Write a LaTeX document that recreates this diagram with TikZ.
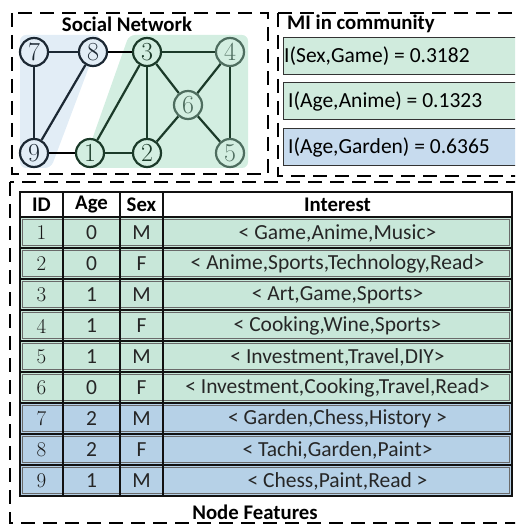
\documentclass[tikz,border=0pt]{standalone}
\usepackage{fontspec}
\newfontfamily\calib{Carlito}
\definecolor{bgblue}{HTML}{E2EDF6}
\definecolor{bggreen}{HTML}{D3EEE1}
\definecolor{rowgreen}{HTML}{C8E7D9}
\definecolor{rowblue}{HTML}{B6D1E7}
\definecolor{migreen}{HTML}{D0EBDD}
\definecolor{miblue}{HTML}{C7DBEE}
\definecolor{navyline}{HTML}{1C2833}
\definecolor{darkgreen}{HTML}{1B3A29}
\definecolor{softgreen}{HTML}{4E6D5F}
\definecolor{rowline}{HTML}{111111}
\definecolor{innerline}{HTML}{6A6A6A}
\newcommand\txt{\calib\fontsize{21.5}{24}\selectfont}
\newcommand\btxt{\calib\bfseries\fontsize{20.8}{24}\selectfont}
\newcommand\ntxt{\fontsize{26}{28}\selectfont}
\newcommand\idtxt{\fontsize{21}{23}\selectfont}
\begin{document}
\begin{tikzpicture}[x=1pt,y=-1pt,
  dashbox/.style={draw=black, line width=1.6pt, dash pattern=on 14pt off 8pt},
  gnode/.style={circle, minimum size=28pt, inner sep=0pt, line width=2.2pt, font=\ntxt},
  bnode/.style={gnode, draw=navyline, fill=bgblue, text=navyline},
  dnode/.style={gnode, draw=darkgreen, fill=bggreen, text=darkgreen},
  lnode/.style={gnode, draw=softgreen, fill=bggreen, text=softgreen},
  bedge/.style={draw=navyline, line width=2.2pt},
  gedge/.style={draw=darkgreen, line width=2.2pt},
  kedge/.style={draw=black, line width=2.2pt},
  title/.style={font=\btxt, inner sep=0pt},
  mibox/.style={draw=black!80, line width=0.8pt},
  mitext/.style={font=\txt, anchor=west, inner sep=0pt},
  cell/.style={font=\txt, text=black!85, inner sep=0pt},
  idcell/.style={font=\idtxt, text=black!90, inner sep=0pt},
  head/.style={font=\btxt, inner sep=0pt}]
\path[use as bounding box] (0,0) rectangle (515,526);
\clip (0,0) rectangle (515,526);

% ---- social network ----
\fill[bgblue, rounded corners=6pt] (20,35) -- (101,35) -- (51,168) -- (20,168) -- cycle;
\fill[bggreen, rounded corners=6pt] (129,35) -- (248,35) -- (248,168) -- (82,168) -- cycle;

\node[bnode] (n7) at (34,52) {7};
\node[bnode] (n8) at (93,52) {8};
\node[dnode] (n3) at (147,52) {3};
\node[lnode] (n4) at (230,52) {4};
\node[lnode] (n6) at (188,105) {6};
\node[bnode] (n9) at (34,153) {9};
\node[dnode] (n1) at (90,153) {1};
\node[dnode] (n2) at (147,153) {2};
\node[lnode] (n5) at (230,153) {5};

\draw[bedge] (n7) -- (n8);
\draw[bedge] (n7) -- (n9);
\draw[bedge] (n9) -- (n8);
\draw[kedge] (n8) -- (n3);
\draw[kedge] (n9) -- (n1);
\draw[gedge] (n1) -- (n2);
\draw[gedge] (n1) -- (n3);
\draw[gedge] (n2) -- (n3);
\draw[gedge] (n3) -- (n4);
\draw[gedge] (n3) -- (n6);
\draw[gedge] (n6) -- (n4);
\draw[gedge] (n6) -- (n2);
\draw[gedge] (n6) -- (n5);
\draw[gedge] (n4) -- (n5);

\draw[dashbox] (12,13) rectangle (268,174);
\node[title] (tsn) at (127,24) {Social Network};

% ---- mutual information ----
\draw[dashbox] (278,13) rectangle (540,176);
\node[title, anchor=west] (tmi) at (287,24) {MI in community};
\filldraw[mibox, fill=migreen] (283,37) rectangle (540,74);
\filldraw[mibox, fill=migreen] (283,82) rectangle (540,119);
\filldraw[mibox, fill=miblue] (283,128) rectangle (540,165);
\node[mitext] (mi1) at (284,56) {I(Sex,Game) = 0.3182};
\node[mitext] (mi2) at (288,101) {I(Age,Anime) = 0.1323};
\node[mitext] (mi3) at (288,147) {I(Age,Garden) = 0.6365};

% ---- node feature table ----
\draw[dashbox] (10,182) rectangle (540,523);
\filldraw[fill=white, draw=rowline, line width=1.6pt] (20,192) rectangle (512,217);
\node[head] (hid) at (41.5,205) {ID};
\node[head] (hage) at (91.5,205) {Age};
\node[head] (hsex) at (141.5,205) {Sex};
\node[head] (hint) at (337.5,205) {Interest};

\foreach \i/\a/\s/\c/\tx in {
  1/0/M/rowgreen/{< Game,Anime,Music>},
  2/0/F/rowgreen/{< Anime,Sports,Technology,Read>},
  3/1/M/rowgreen/{< Art,Game,Sports>},
  4/1/F/rowgreen/{< Cooking,Wine,Sports>},
  5/1/M/rowgreen/{< Investment,Travel,DIY>},
  6/0/F/rowgreen/{< Investment,Cooking,Travel,Read>},
  7/2/M/rowblue/{< Garden,Chess,History >},
  8/2/F/rowblue/{< Tachi,Garden,Paint>},
  9/1/M/rowblue/{< Chess,Paint,Read >}}{
  \pgfmathsetmacro\yt{217+(\i-1)*31}
  \filldraw[fill=\c, draw=rowline, line width=1.6pt] (20,\yt) rectangle (512,\yt+31);
  \draw[innerline, line width=0.8pt] (22.6,\yt+2.6) rectangle (509.4,\yt+28.4);
  \node[idcell] (id\i) at (41.5,\yt+16) {\i};
  \node[cell] (age\i) at (91.5,\yt+16) {\a};
  \node[cell] (sex\i) at (141.5,\yt+16) {\s};
  \node[cell] (int\i) at (337.5,\yt+16) {\tx};
}
\foreach \xc in {63,120,163}{
  \draw[rowline, line width=1.8pt] (\xc,192) -- (\xc,496);
}
\draw[rowline, line width=1.8pt] (20,496) -- (512,496);
\node[title] (tnf) at (255,512) {Node Features};
\end{tikzpicture}
\end{document}
